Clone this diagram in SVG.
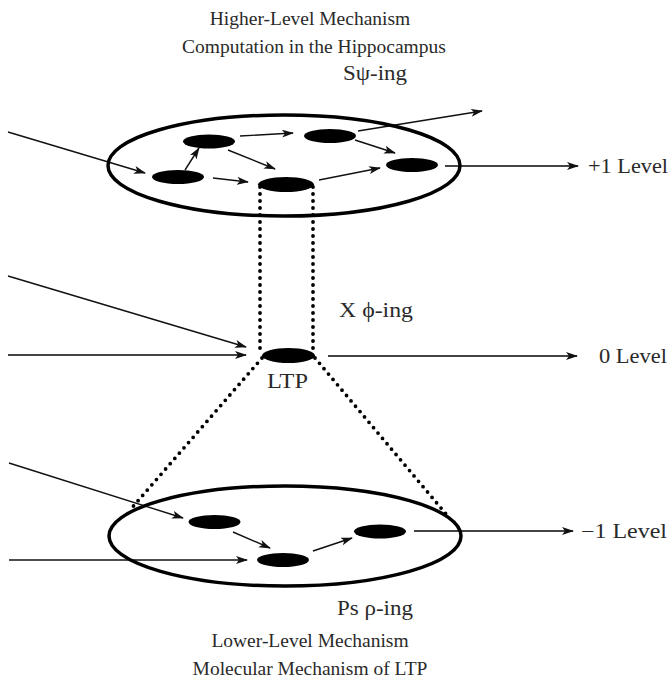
<svg xmlns="http://www.w3.org/2000/svg" width="670" height="689" viewBox="0 0 670 689">
<style>
text{font-family:"Liberation Serif","Times New Roman",serif;fill:#2a2a2a;font-size:20px}
.ttl{font-size:19.5px}
.ring{fill:none;stroke:#000;stroke-width:3.5}
.node{fill:#000}
.a{fill:none;stroke:#111;stroke-width:1.4;marker-end:url(#ah)}
.lv{fill:none;stroke:#444;stroke-width:2;marker-end:url(#ah)}
.dot{fill:none;stroke:#000;stroke-width:3.8;stroke-linecap:round;stroke-dasharray:0 7}
</style>
<defs>
<marker id="ah" markerUnits="userSpaceOnUse" markerWidth="12" markerHeight="9" refX="11" refY="4" orient="auto">
<path d="M0,0 L12,4 L0,8 L3,4 z" fill="#111"/>
</marker>
</defs>
<rect width="670" height="689" fill="#fff"/>
<g id="labels">
<text class="ttl" x="310" y="25" text-anchor="middle">Higher-Level Mechanism</text>
<text class="ttl" x="314" y="53" text-anchor="middle">Computation in the Hippocampus</text>
<text x="343" y="80" textLength="64" lengthAdjust="spacingAndGlyphs">Sψ-ing</text>
<text x="339" y="317" textLength="74" lengthAdjust="spacingAndGlyphs">X ϕ-ing</text>
<text x="337" y="615" textLength="76" lengthAdjust="spacingAndGlyphs">Ps ρ-ing</text>
<text class="ttl" x="310" y="647" text-anchor="middle">Lower-Level Mechanism</text>
<text class="ttl" x="310" y="675" text-anchor="middle">Molecular Mechanism of LTP</text>
<text x="588" y="173" textLength="80" lengthAdjust="spacingAndGlyphs">+1 Level</text>
<text x="599" y="363" textLength="68" lengthAdjust="spacingAndGlyphs">0 Level</text>
<text x="581" y="538" textLength="86" lengthAdjust="spacingAndGlyphs">−1 Level</text>
</g>
<g id="connectors">
<path class="dot" d="M260,187 V351"/>
<path class="dot" d="M313,187 V351"/>
<path class="dot" d="M262,358 L130,510"/>
<path class="dot" d="M315,358 L446,514"/>
<path class="a" d="M8,132 L145,173"/>
<path class="a" d="M185,170 L199,148"/>
<path class="a" d="M240,136 L293,133"/>
<path class="a" d="M228,150 L275,169"/>
<path class="a" d="M213,178 L248,182"/>
<path class="a" d="M358,131 L482,111"/>
<path class="a" d="M355,140 L395,153"/>
<path class="a" d="M319,180 L380,168"/>
<path class="lv" d="M445,166 L578,166"/>
<path class="a" d="M8,276 L246,347"/>
<path class="lv" d="M8,355 L246,355"/>
<path class="lv" d="M328,356 L577,356"/>
<path class="a" d="M9,463 L183,518"/>
<path class="a" d="M9,560 L247,560"/>
<path class="a" d="M233,532 L270,548"/>
<path class="a" d="M313,551 L352,538"/>
<path class="lv" d="M414,531 L573,531"/>
</g>
<g id="upper-level">
<ellipse class="ring" cx="284" cy="165.5" rx="176" ry="50.5"/>
</g>
<g id="node-u1"><ellipse class="node" cx="209" cy="141.5" rx="26" ry="7"/></g>
<g id="node-u2"><ellipse class="node" cx="330" cy="136" rx="26" ry="7"/></g>
<g id="node-u3"><ellipse class="node" cx="178" cy="177" rx="26" ry="7"/></g>
<g id="node-u4"><ellipse class="node" cx="286" cy="184.5" rx="28" ry="7.5"/></g>
<g id="node-u5"><ellipse class="node" cx="412" cy="165" rx="26" ry="7"/></g>
<g id="node-ltp">
<ellipse class="node" cx="288.5" cy="355.5" rx="26.5" ry="7.5"/>
<text x="267" y="388" textLength="41" lengthAdjust="spacingAndGlyphs">LTP</text>
</g>
<g id="lower-level">
<ellipse class="ring" cx="285" cy="536" rx="176" ry="50"/>
</g>
<g id="node-l1"><ellipse class="node" cx="214.5" cy="522" rx="26" ry="7"/></g>
<g id="node-l2"><ellipse class="node" cx="283" cy="560" rx="26" ry="7"/></g>
<g id="node-l3"><ellipse class="node" cx="380" cy="531.5" rx="26" ry="7"/></g>
</svg>
